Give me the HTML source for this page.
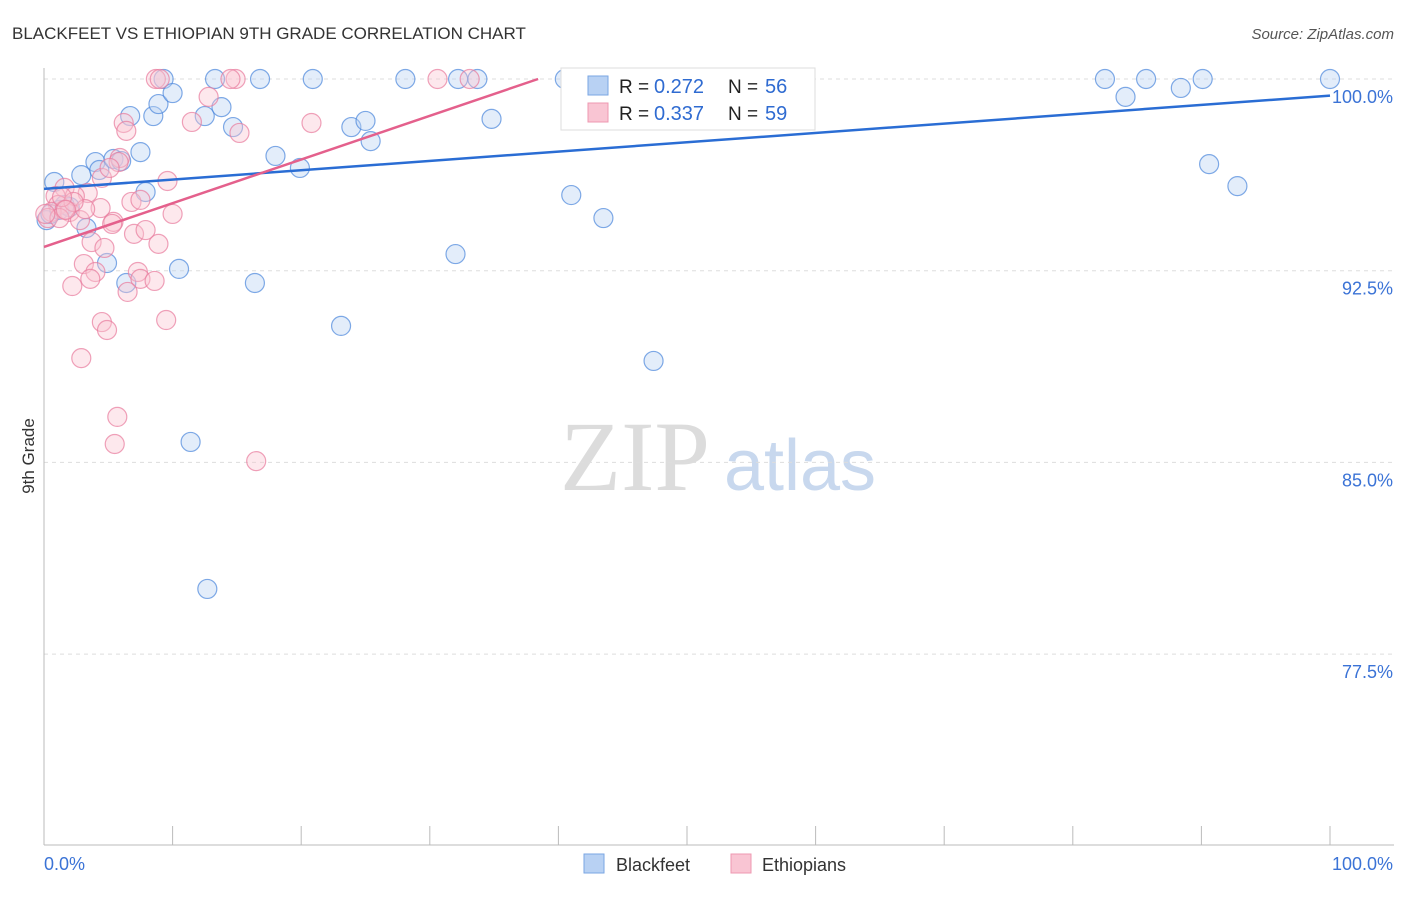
<!DOCTYPE html>
<html><head><meta charset="utf-8"><style>
body{margin:0;background:#fff;font-family:"Liberation Sans",sans-serif}
</style></head><body>
<svg id="chart" width="1406" height="892" xmlns="http://www.w3.org/2000/svg" font-family="Liberation Sans, sans-serif">
<text x="12" y="39" font-size="17" fill="#333">BLACKFEET VS ETHIOPIAN 9TH GRADE CORRELATION CHART</text>
<text x="1394" y="39" font-size="15" fill="#555" text-anchor="end" font-style="italic">Source: ZipAtlas.com</text>
<text transform="translate(34,456) rotate(-90)" font-size="17" fill="#333" text-anchor="middle">9th Grade</text>
<g><text x="635" y="490" font-size="100" fill="#dcdcdc" text-anchor="middle" style="font-family:'Liberation Serif',serif">ZIP</text><text x="800" y="490" font-size="72" fill="#c8d8ee" text-anchor="middle">atlas</text></g>
<g id="grid"></g><g id="axes"></g><g id="pts"></g><g id="lines"></g>
<g>
<rect x="561" y="68" width="254" height="62" fill="#fff" stroke="#ddd"/>
<rect x="588" y="76" width="20" height="19" fill="#b8d1f3" stroke="#7aa6e3"/>
<text x="619" y="93" font-size="19" fill="#222">R =</text><text x="654" y="93" font-size="20" fill="#2f6bd1">0.272</text>
<text x="728" y="93" font-size="19" fill="#222">N =</text><text x="765" y="93" font-size="20" fill="#2f6bd1">56</text>
<rect x="588" y="103" width="20" height="19" fill="#f9c5d3" stroke="#ee98b0"/>
<text x="619" y="120" font-size="19" fill="#222">R =</text><text x="654" y="120" font-size="20" fill="#2f6bd1">0.337</text>
<text x="728" y="120" font-size="19" fill="#222">N =</text><text x="765" y="120" font-size="20" fill="#2f6bd1">59</text>
</g>
<g>
<rect x="584" y="854" width="20" height="19" fill="#b8d1f3" stroke="#7aa6e3"/><text x="616" y="871" font-size="18" fill="#333">Blackfeet</text>
<rect x="731" y="854" width="20" height="19" fill="#f9c5d3" stroke="#ee98b0"/><text x="762" y="871" font-size="18" fill="#333">Ethiopians</text>
</g>
</svg>
<script>
const yTicks=[100,92.5,85,77.5];
const yTickLabels=["100.0%","92.5%","85.0%","77.5%"];
const blueX=[0.8,0.2,2.9,4.0,4.3,3.3,4.9,5.4,6.0,6.7,7.5,7.9,8.5,8.9,9.3,10.0,10.5,11.4,12.5,12.7,13.3,13.8,14.7,16.4,16.8,18.0,19.9,20.9,23.1,23.9,25.0,25.4,28.1,32.0,32.2,33.7,34.8,40.5,41.0,43.5,46.9,47.4,50.1,82.5,84.1,85.7,88.4,90.1,90.6,92.8,100,6.4,1.6,0.5,1.2,2.0];
const blueY=[95.97,94.48,96.24,96.75,96.44,94.17,92.8,96.87,96.79,98.55,97.14,95.58,98.55,99.02,100,99.45,92.57,85.8,98.55,80.05,100,98.9,98.12,92.02,100,96.99,96.52,100,90.34,98.12,98.36,97.57,100,93.15,100,100,98.44,100,95.46,94.56,100,88.97,100,100,99.3,100,99.65,100,96.67,95.81,100,92.02,95.07,94.72,94.88,94.99];
const pinkX=[8.7,9.0,14.9,14.5,30.6,33.1,12.8,6.2,6.4,11.5,15.2,20.8,5.9,5.8,9.6,4.5,3.4,1.6,0.9,4.4,1.1,2.0,0.6,0.3,10.0,5.4,5.3,6.8,7.5,7.0,7.9,8.9,3.7,4.7,3.1,4.0,3.6,2.2,7.3,7.5,8.6,6.5,4.5,4.9,9.5,2.9,5.7,5.5,16.5,2.4,1.6,2.8,1.2,0.1,5.1,3.2,2.3,1.4,1.7];
const pinkY=[100,100,100,100,100,100,99.3,98.28,97.97,98.32,97.89,98.28,96.91,96.75,96.01,96.13,95.54,95.74,95.42,94.95,95.07,94.8,94.8,94.56,94.72,94.41,94.33,95.19,95.27,93.94,94.09,93.55,93.62,93.39,92.76,92.45,92.18,91.9,92.45,92.18,92.1,91.67,90.49,90.18,90.57,89.08,86.78,85.72,85.05,95.42,94.88,94.48,94.56,94.72,96.52,94.91,95.19,95.38,94.88];
const blueTrend=[95.7,99.35];
const pinkTrend=[93.43,0.171];
const X=v=>44+v*12.86, Y=v=>79+(100-v)*25.56;
const NS="http://www.w3.org/2000/svg";
function mk(p,t,a){const e=document.createElementNS(NS,t);for(const k in a)e.setAttribute(k,a[k]);p.appendChild(e);return e;}
const grid=document.getElementById('grid'),axes=document.getElementById('axes'),pts=document.getElementById('pts'),lines=document.getElementById('lines');
yTicks.forEach((t,i)=>{
 const g=mk(grid,'line',{x1:44,x2:1394,y1:Y(t),y2:Y(t),stroke:'#ddd','stroke-dasharray':'4,4'});
 
 
 const tx=mk(axes,'text',{x:1393,y:Y(t)+24,'font-size':18,fill:'#3b73d6','text-anchor':'end'});
 tx.textContent=yTickLabels[i];
 
 
});
const ya=mk(axes,'line',{x1:44,x2:44,y1:68,y2:845,stroke:'#bbb'});


const xa=mk(axes,'line',{x1:44,x2:1394,y1:845,y2:845,stroke:'#bbb'});


for(let i=0;i<=10;i++){const t=mk(axes,'line',{x1:X(i*10),x2:X(i*10),y1:826,y2:845,stroke:'#bbb'});
 
 }
[["0.0%",44,"start"],["100.0%",1393,"end"]].forEach(d=>{const t=mk(axes,'text',{x:d[1],y:870,'font-size':18,fill:'#3b73d6','text-anchor':d[2]});t.textContent=d[0];
 
 });
function dots(xs,ys,fill,stroke,name){xs.forEach((x,i)=>{const c=mk(pts,'circle',{cx:X(x),cy:Y(ys[i]),r:9.5,fill:fill,'fill-opacity':0.4,stroke:stroke,'stroke-opacity':0.7,'stroke-width':1.2});
 
 });}
dots(blueX,blueY,'#b8d1f3','#4a86dc','blackfeet-point');
dots(pinkX,pinkY,'#f9c5d3','#e87a9c','ethiopians-point');
const bl=mk(lines,'line',{x1:X(0),y1:Y(blueTrend[0]),x2:X(100),y2:Y(blueTrend[1]),stroke:'#2a6dd4','stroke-width':2.5});


const xEnd=(100-pinkTrend[0])/pinkTrend[1];
const pl=mk(lines,'line',{x1:X(0),y1:Y(pinkTrend[0]),x2:X(xEnd),y2:Y(100),stroke:'#e4608c','stroke-width':2.5});


</script>
</body></html>
